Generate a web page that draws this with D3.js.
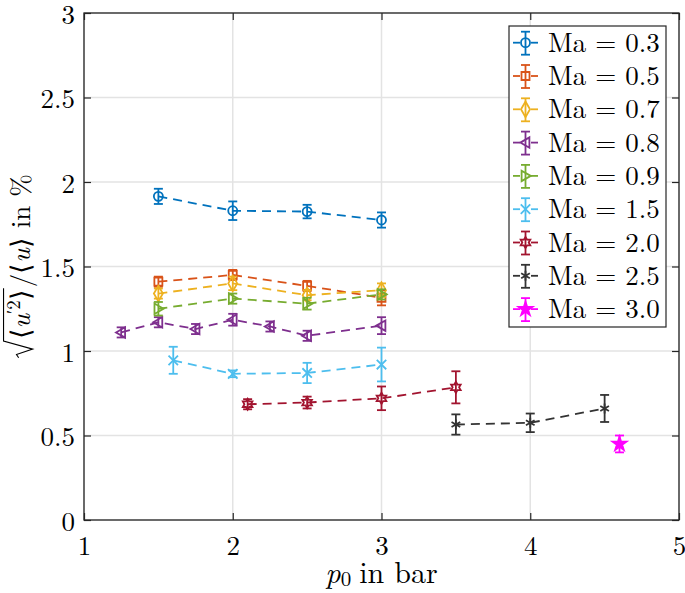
<!DOCTYPE html>
<html><head><meta charset="utf-8">
<script src="https://cdn.jsdelivr.net/npm/d3@7"></script>
<style>body{margin:0;background:#fff} svg{display:block}</style>
</head><body>
<script>
// ---------- data ----------
const xTicks = [1, 2, 3, 4, 5];
const xTickLabels = ["1", "2", "3", "4", "5"];
const yTicks = [0, 0.5, 1, 1.5, 2, 2.5, 3];
const yTickLabels = ["0", "0.5", "1", "1.5", "2", "2.5", "3"];

const machLabels = ["0.3", "0.5", "0.7", "0.8", "0.9", "1.5", "2.0", "2.5", "3.0"];
const seriesColors = ["#0072BD", "#D95319", "#EDB120", "#7E2F8E", "#77AC30", "#4DBEEE", "#A2142F", "#333333", "#FF00FF"];
const seriesMarkers = ["circle", "square", "diamond", "triLeft", "triRight", "times", "hexagram", "asterisk", "star"];

const ma03X = [1.5, 2, 2.5, 3];
const ma03Y = [1.915, 1.83, 1.825, 1.775];
const ma03E = [0.045, 0.055, 0.04, 0.045];

const ma05X = [1.5, 2, 2.5, 3];
const ma05Y = [1.41, 1.45, 1.385, 1.315];
const ma05E = [0.03, 0.03, 0.03, 0.045];

const ma07X = [1.5, 2, 2.5, 3];
const ma07Y = [1.34, 1.40, 1.33, 1.36];
const ma07E = [0.03, 0.04, 0.03, 0.04];

const ma08X = [1.25, 1.5, 1.75, 2, 2.25, 2.5, 3];
const ma08Y = [1.11, 1.17, 1.13, 1.185, 1.145, 1.09, 1.15];
const ma08E = [0.03, 0.03, 0.03, 0.035, 0.03, 0.03, 0.05];

const ma09X = [1.5, 2, 2.5, 3];
const ma09Y = [1.25, 1.31, 1.28, 1.335];
const ma09E = [0.04, 0.03, 0.035, 0.03];

const ma15X = [1.6, 2, 2.5, 3];
const ma15Y = [0.945, 0.865, 0.87, 0.92];
const ma15E = [0.08, 0.02, 0.06, 0.10];

const ma20X = [2.1, 2.5, 3, 3.5];
const ma20Y = [0.685, 0.695, 0.72, 0.785];
const ma20E = [0.03, 0.035, 0.07, 0.095];

const ma25X = [3.5, 4, 4.5];
const ma25Y = [0.565, 0.575, 0.66];
const ma25E = [0.06, 0.055, 0.08];

const ma30X = [4.6];
const ma30Y = [0.45];
const ma30E = [0.05];

const allX = [ma03X, ma05X, ma07X, ma08X, ma09X, ma15X, ma20X, ma25X, ma30X];
const allY = [ma03Y, ma05Y, ma07Y, ma08Y, ma09Y, ma15Y, ma20Y, ma25Y, ma30Y];
const allE = [ma03E, ma05E, ma07E, ma08E, ma09E, ma15E, ma20E, ma25E, ma30E];

const series = machLabels.map((m, i) => ({
  label: m, color: seriesColors[i], marker: seriesMarkers[i],
  points: allX[i].map((x, j) => ({ x, y: allY[i][j], e: allE[i][j] }))
}));

// ---------- layout ----------
const W = 685, H = 593;
const L = 84, R = 679, T = 13, B = 520;
const AX = "#262626";
const FONT = "Latin Modern Roman";
const FS = 27;
const LW = 1.8;

const x = d3.scaleLinear().domain([1, 5]).range([L, R]);
const y = d3.scaleLinear().domain([0, 3]).range([B, T]);

const svg = d3.select("body").append("svg").attr("width", W).attr("height", H);

// grid
const grid = svg.append("g").attr("stroke", "#e3e3e3").attr("stroke-width", 1.5);
grid.selectAll(".gx").data(xTicks).join("line")
  .attr("x1", d => x(d)).attr("x2", d => x(d)).attr("y1", T).attr("y2", B);
grid.selectAll(".gy").data(yTicks).join("line")
  .attr("y1", d => y(d)).attr("y2", d => y(d)).attr("x1", L).attr("x2", R);

// axes (inward ticks, mirrored)
function styleAxis(g) {
  g.attr("font-family", FONT).attr("font-size", FS);
  g.select(".domain").remove();
  g.selectAll(".tick line").attr("stroke", AX).attr("stroke-width", 1.2);
  g.selectAll(".tick text").attr("fill", "#000").attr("font-family", FONT).attr("font-size", FS);
}
svg.append("g").attr("transform", `translate(0,${B})`)
  .call(d3.axisBottom(x).tickValues(xTicks).tickFormat((d, i) => xTickLabels[i]).tickSizeInner(-7).tickSizeOuter(0).tickPadding(16))
  .call(styleAxis);
svg.append("g").attr("transform", `translate(0,${T})`)
  .call(d3.axisTop(x).tickValues(xTicks).tickFormat("").tickSizeInner(-7).tickSizeOuter(0))
  .call(styleAxis);
const yAx = svg.append("g").attr("transform", `translate(${L},0)`)
  .call(d3.axisLeft(y).tickValues(yTicks).tickFormat((d, i) => yTickLabels[i]).tickSizeInner(-7).tickSizeOuter(0).tickPadding(9))
  .call(styleAxis);
yAx.selectAll(".tick text").attr("dy", "0.37em");
svg.append("g").attr("transform", `translate(${R},0)`)
  .call(d3.axisRight(y).tickValues(yTicks).tickFormat("").tickSizeInner(-7).tickSizeOuter(0))
  .call(styleAxis);
svg.append("rect").attr("x", L).attr("y", T).attr("width", R - L).attr("height", B - T)
  .attr("fill", "none").attr("stroke", AX).attr("stroke-width", 1.3);

// ---------- markers ----------
const triLeft = { draw(c, s) { const r = Math.sqrt(s) * 0.62; c.moveTo(-r, 0); c.lineTo(r * 0.75, -r); c.lineTo(r * 0.75, r); c.closePath(); } };
const triRight = { draw(c, s) { const r = Math.sqrt(s) * 0.62; c.moveTo(r, 0); c.lineTo(-r * 0.75, -r); c.lineTo(-r * 0.75, r); c.closePath(); } };
const hexagram = { draw(c, s) {
  const r = Math.sqrt(s) * 0.62, ri = r * 0.58;
  for (let k = 0; k < 12; k++) {
    const a = -Math.PI / 2 + k * Math.PI / 6, rr = k % 2 ? ri : r;
    const px = rr * Math.cos(a), py = rr * Math.sin(a);
    k ? c.lineTo(px, py) : c.moveTo(px, py);
  }
  c.closePath();
} };
const markerTypes = {
  circle: [d3.symbolCircle, 64], square: [d3.symbolSquare, 64], diamond: [d3.symbolDiamond, 70],
  triLeft: [triLeft, 70], triRight: [triRight, 70], times: [d3.symbolTimes, 60],
  hexagram: [hexagram, 80], asterisk: [d3.symbolAsterisk, 70], star: [d3.symbolStar, 60]
};
function markerPath(m) { const [t, s] = markerTypes[m]; return d3.symbol().type(t).size(s)(); }

// ---------- series ----------
const line = d3.line().x(d => x(d.x)).y(d => y(d.y));
const cap = 4.5;
series.forEach(s => {
  const g = svg.append("g").attr("stroke", s.color).attr("fill", "none").attr("stroke-width", LW);
  g.append("path").attr("d", line(s.points)).attr("stroke-dasharray", "9,6");
  const eb = g.selectAll(".eb").data(s.points).join("g");
  eb.append("line").attr("x1", d => x(d.x)).attr("x2", d => x(d.x)).attr("y1", d => y(d.y - d.e)).attr("y2", d => y(d.y + d.e));
  eb.append("line").attr("x1", d => x(d.x) - cap).attr("x2", d => x(d.x) + cap).attr("y1", d => y(d.y - d.e)).attr("y2", d => y(d.y - d.e));
  eb.append("line").attr("x1", d => x(d.x) - cap).attr("x2", d => x(d.x) + cap).attr("y1", d => y(d.y + d.e)).attr("y2", d => y(d.y + d.e));
  g.selectAll(".mk").data(s.points).join("path")
    .attr("d", markerPath(s.marker))
    .attr("transform", d => `translate(${x(d.x)},${y(d.y)})`)
    .attr("fill", s.marker === "star" ? s.color : "none");
});

// ---------- legend ----------
const lg = svg.append("g");
lg.append("rect").attr("x", 509).attr("y", 26).attr("width", 157).attr("height", 301)
  .attr("fill", "#fff").attr("stroke", AX).attr("stroke-width", 1.2);
series.forEach((s, i) => {
  const cy = 42.7 + i * 33.3, cx = 525.5;
  const g = lg.append("g").attr("stroke", s.color).attr("fill", "none").attr("stroke-width", LW);
  g.append("line").attr("x1", 513).attr("x2", 520).attr("y1", cy).attr("y2", cy);
  g.append("line").attr("x1", 531).attr("x2", 538).attr("y1", cy).attr("y2", cy);
  g.append("line").attr("x1", cx).attr("x2", cx).attr("y1", cy - 11).attr("y2", cy + 12);
  g.append("line").attr("x1", cx - cap).attr("x2", cx + cap).attr("y1", cy - 11).attr("y2", cy - 11);
  g.append("line").attr("x1", cx - cap).attr("x2", cx + cap).attr("y1", cy + 12).attr("y2", cy + 12);
  g.append("path").attr("d", markerPath(s.marker)).attr("transform", `translate(${cx},${cy})`)
    .attr("fill", s.marker === "star" ? s.color : "none");
  lg.append("text").attr("x", 548).attr("y", cy + 9).attr("font-family", FONT).attr("font-size", FS)
    .attr("fill", "#000").text(`Ma = ${s.label}`);
});

// ---------- x label ----------
const XFS = 30;
const xl = svg.append("g");
const xp = xl.append("text").attr("y", 583).attr("font-family", FONT).attr("font-size", XFS)
  .attr("font-style", "italic").attr("fill", "#000").text("p");
const wp = xp.node().getComputedTextLength();
const x0 = xl.append("text").attr("x", wp).attr("y", 586).attr("font-family", FONT).attr("font-size", 21)
  .attr("fill", "#000").text("0");
const w0 = x0.node().getComputedTextLength();
const xr = xl.append("text").attr("x", wp + w0 + 8).attr("y", 583).attr("font-family", FONT).attr("font-size", XFS)
  .attr("fill", "#000").text("in bar");
const wx = wp + w0 + 8 + xr.node().getComputedTextLength();
xl.attr("transform", `translate(${(L + R) / 2 - wx / 2},0)`);

// ---------- y label ----------
const fs = FS;
const yg = svg.append("g").attr("transform", "translate(30,266) rotate(-90)");
const inner = yg.append("g");
const rad0 = 0.68 * fs;
const t1 = inner.append("text").attr("x", rad0).attr("y", 0).attr("font-family", FONT).attr("font-size", fs).attr("fill", "#000");
t1.append("tspan").text("⟨");
t1.append("tspan").attr("font-style", "italic").text("u");
t1.append("tspan").attr("font-size", 19).attr("dy", -10).text("′2");
t1.append("tspan").attr("dy", 10).text("⟩");
const w1 = t1.node().getComputedTextLength();
const vEnd = rad0 + w1 + 1;
inner.append("path")
  .attr("d", `M0,${-0.42 * fs} L${0.12 * fs},${-0.5 * fs} L${0.32 * fs},${0.1 * fs} L${0.62 * fs},${-0.98 * fs} H${vEnd}`)
  .attr("fill", "none").attr("stroke", "#000").attr("stroke-width", 1.1);
const t2 = inner.append("text").attr("x", vEnd + 1).attr("y", 0).attr("font-family", FONT).attr("font-size", fs).attr("fill", "#000");
t2.append("tspan").text("/⟨");
t2.append("tspan").attr("font-style", "italic").text("u");
t2.append("tspan").text("⟩ in %");
const total = vEnd + 1 + t2.node().getComputedTextLength();
inner.attr("transform", `translate(${-total / 2},0)`);
</script>
</body></html>
